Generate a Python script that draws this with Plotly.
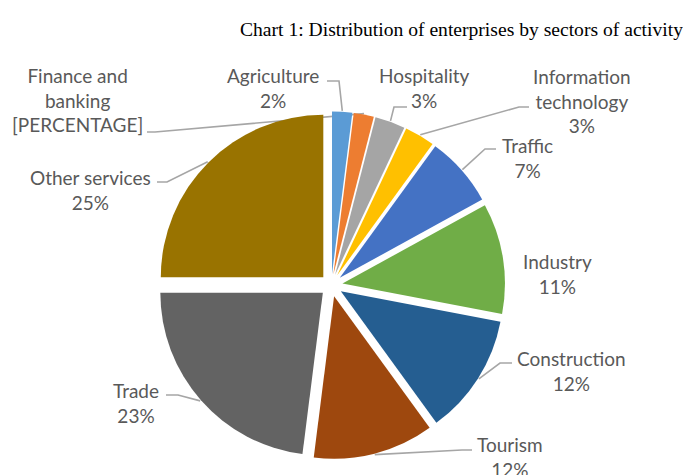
import math
import plotly.graph_objects as go

# ---------------- data ----------------
sectors = ["Agriculture", "Finance and banking", "Hospitality", "Information technology",
           "Traffic", "Industry", "Construction", "Tourism", "Trade", "Other services"]
shares = [2, 2, 3, 3, 7, 11, 12, 12, 23, 25]
label_names = ["Agriculture", "Finance and<br>banking", "Hospitality", "Information<br>technology",
               "Traffic", "Industry", "Construction", "Tourism", "Trade", "Other services"]
label_values = ["2%", "[PERCENTAGE]", "3%", "3%", "7%", "11%", "12%", "12%", "23%", "25%"]
title_text = "Chart 1: Distribution of enterprises by sectors of activity"

# ---------------- style / layout ----------------
colors = ["#5B9BD5", "#ED7D31", "#A5A5A5", "#FFC000", "#4472C4",
          "#70AD47", "#255E91", "#9E480E", "#636363", "#997300"]
WIN_W, WIN_H = 691, 475
OFF = 8                    # page body margin of the browser
W, H = WIN_W - OFF, WIN_H - OFF
CX, CY = 331.3, 285.3      # pie centre (window px)
R = 162.5                  # pie radius (px)
PULL = 0.0695              # explosion as fraction of radius

# label centre positions (window px) and leader elbow points (window px)
label_pos = [(273, 88), (77, 100), (424, 88), (582, 101), (527, 158),
             (557, 274), (571, 371), (510, 457), (136, 403), (90, 190)]
leader_pts = [[(327, 81), (339, 81)],
              [(147, 132), (155, 132)],
              [(407, 107), (394, 107)],
              [(529, 107), (519, 107)],
              [(496, 149), (485, 149)],
              None,
              [(512, 363), (500, 363)],
              [(472, 450), (462, 450)],
              [(166, 395), (178, 395)],
              [(157, 182), (167, 182)]]

half = R * (1 + PULL)
dom_x = [(CX - OFF - half) / W, (CX - OFF + half) / W]
dom_y = [1 - (CY - OFF + half) / H, 1 - (CY - OFF - half) / H]

fig = go.Figure()

fig.add_trace(go.Pie(
    labels=sectors, values=shares, sort=False, direction="clockwise", rotation=0,
    pull=[PULL] * len(shares), marker=dict(colors=colors, line=dict(width=0)),
    textinfo="none", hoverinfo="label+percent", showlegend=False,
    domain=dict(x=dom_x, y=dom_y),
))

# leader lines anchored on slice edges computed from the data
total = sum(shares)
cum = 0
for i, v in enumerate(shares):
    theta = 2 * math.pi * (cum + v / 2) / total
    cum += v
    pts = leader_pts[i]
    if pts is None:
        continue
    rr = R * (1 + PULL) + 1
    ax = CX + rr * math.sin(theta)
    ay = CY - rr * math.cos(theta)
    xs = [p[0] for p in pts] + [ax]
    ys = [p[1] for p in pts] + [ay]
    fig.add_trace(go.Scatter(x=xs, y=ys, mode="lines",
                             line=dict(color="#A6A6A6", width=1.6),
                             hoverinfo="skip", showlegend=False))

annotations = []
for i in range(len(shares)):
    lx, ly = label_pos[i]
    annotations.append(dict(
        x=lx, y=ly, xref="x", yref="y", showarrow=False,
        text=label_names[i] + "<br>" + label_values[i],
        xanchor="center", yanchor="middle", align="center",
        font=dict(family="Lato", size=19, color="#595959"),
    ))
annotations.append(dict(
    x=461, y=29, xref="x", yref="y", showarrow=False, text=title_text,
    xanchor="center", yanchor="middle",
    font=dict(family="Liberation Serif", size=19.6, color="#000000"),
))

fig.update_layout(
    width=W, height=H,
    margin=dict(l=0, r=0, t=0, b=0),
    paper_bgcolor="white", plot_bgcolor="rgba(0,0,0,0)",
    xaxis=dict(range=[OFF, WIN_W], visible=False, fixedrange=True, domain=[0, 1]),
    yaxis=dict(range=[WIN_H, OFF], visible=False, fixedrange=True, domain=[0, 1]),
    annotations=annotations,
)

fig.write_html("out.html")
